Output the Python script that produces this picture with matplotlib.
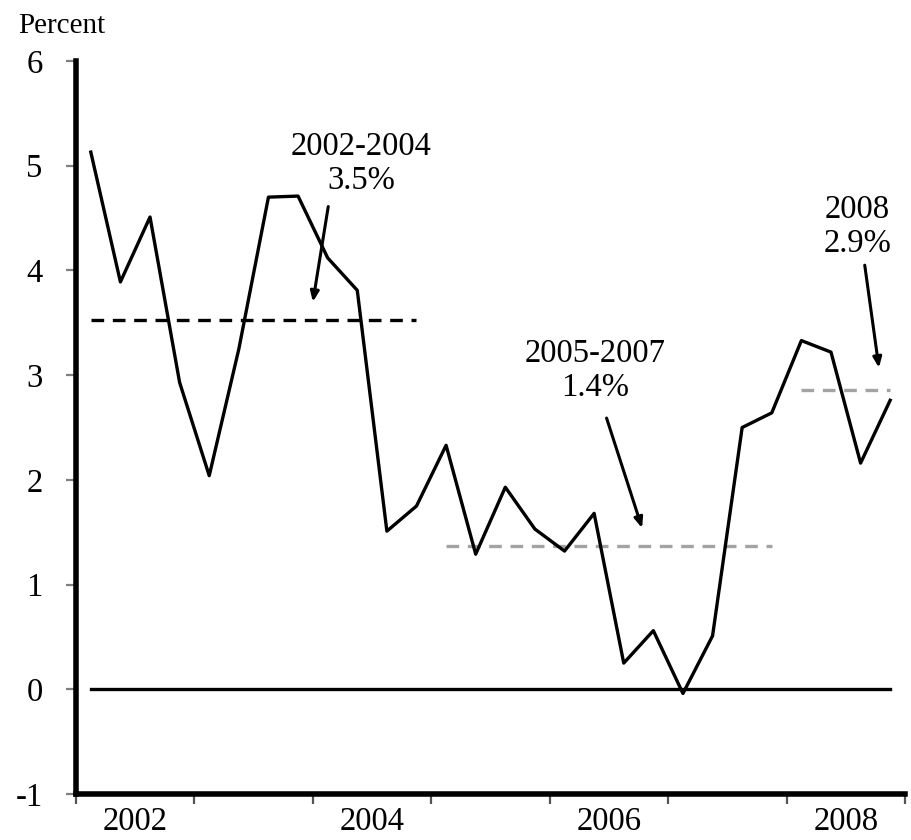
import matplotlib
matplotlib.use("Agg")
import matplotlib.pyplot as plt
import numpy as np

plt.rcParams["font.family"] = ["Liberation Serif", "DejaVu Serif"]
plt.rcParams["axes.unicode_minus"] = False

# quarterly values, 2002Q1 .. 2008Q4 (percent)
quarters = np.arange(2002, 2009, 0.25) + 0.125
values = [5.13, 3.89, 4.51, 2.93, 2.04, 3.25, 4.70, 4.71,
          4.12, 3.81, 1.51, 1.75, 2.33, 1.29, 1.93, 1.53,
          1.32, 1.68, 0.25, 0.56, -0.04, 0.51, 2.50, 2.64,
          3.33, 3.22, 2.16, 2.76]

# period averages
periods = [(2002, 2004), (2005, 2007), (2008, 2008)]
period_avg = [3.53, 1.37, 2.86]
period_labels = ["2002-2004\n3.5%", "2005-2007\n1.4%", "2008\n2.9%"]
period_colors = ["black", "#a3a3a3", "#a3a3a3"]

# annotation positions (text centre, arrow tail, arrow head)
label_xy = [(2004.41, 5.02), (2006.38, 3.04), (2008.60, 4.42)]
arrow_from = [(2004.13, 4.61), (2006.48, 2.59), (2008.66, 4.05)]
arrow_to = [(2004.00, 3.70), (2006.78, 1.54), (2008.78, 3.07)]

year_ticks = list(range(2002, 2010))
year_labels = ["2002", "2004", "2006", "2008"]

fig = plt.figure(figsize=(9.11, 8.4), dpi=100)
ax = fig.add_axes([76 / 911, 1 - 794 / 840, 829 / 911, 733 / 840])

ax.plot([quarters[0], quarters[-1]], [0, 0], color="black", linewidth=2.4)

for (start, end), avg, color in zip(periods, period_avg, period_colors):
    mask = (quarters > start) & (quarters < end + 1)
    xs = quarters[mask]
    ax.plot(xs, [avg] * len(xs), color=color, linewidth=2.4,
            linestyle=(0, (3.8, 2.6)))

ax.plot(quarters, values, color="black", linewidth=2.4)

for text, xy, p0, p1 in zip(period_labels, label_xy, arrow_from, arrow_to):
    ax.text(xy[0], xy[1], text, ha="center", va="center", fontsize=23.5,
            multialignment="center", linespacing=1.15)
    ax.annotate("", xy=p1, xytext=p0,
                arrowprops=dict(arrowstyle="-|>,head_length=0.6,head_width=0.25",
                                color="black", linewidth=2.2, shrinkA=0, shrinkB=0))

ax.set_xlim(2002, 2009)
ax.set_ylim(-1, 6)
ax.set_yticks(range(-1, 7))
ax.set_xticks(year_ticks)
ax.set_xticklabels([])
ax.set_xticks([int(y) + 0.5 for y in year_labels], minor=True)
ax.set_xticklabels(year_labels, minor=True)

for side in ["top", "right"]:
    ax.spines[side].set_visible(False)
for side in ["left", "bottom"]:
    ax.spines[side].set_linewidth(4)

ax.tick_params(axis="y", length=7, width=1.6, color="#7f7f7f", pad=17, labelsize=23.5)
ax.tick_params(axis="x", which="major", length=7, width=1.6, color="#555555")
ax.tick_params(axis="x", which="minor", length=0, pad=9, labelsize=23.5)

fig.text(0.02, 0.961, "Percent", fontsize=21, va="baseline", ha="left")

fig.savefig("out.png", dpi=100)
